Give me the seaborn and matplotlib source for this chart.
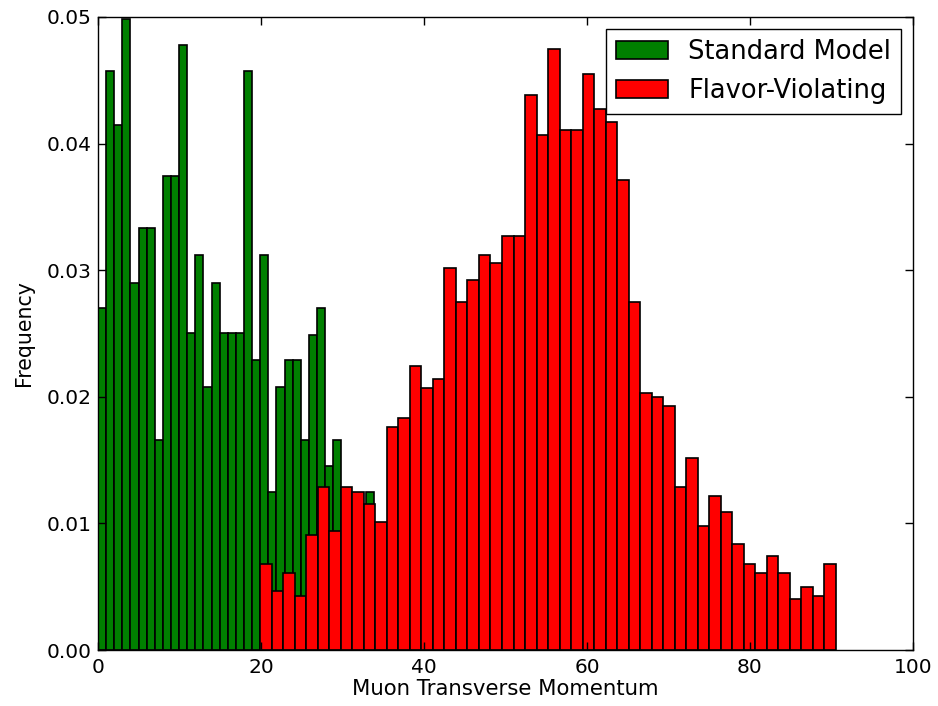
import numpy as np
import pandas as pd
import seaborn as sns
import matplotlib
matplotlib.use("Agg")
import matplotlib.pyplot as plt

# Standard Model histogram: 34 bins of ~1 unit starting at 0
sm_range = (0.0, 33.83)
sm_heights = [0.0270, 0.0457, 0.0415, 0.0498, 0.0290, 0.0333, 0.0333, 0.0166,
              0.0374, 0.0374, 0.0478, 0.0250, 0.0312, 0.0208, 0.0290, 0.0250,
              0.0250, 0.0250, 0.0457, 0.0229, 0.0312, 0.0125, 0.0208, 0.0229,
              0.0229, 0.0166, 0.0249, 0.0270, 0.0145, 0.0166, 0.0104, 0.0083,
              0.0104, 0.0125]

# Flavor-Violating histogram: 50 bins between ~20 and ~90.5
fv_range = (19.9, 90.55)
fv_heights = [0.0068, 0.0047, 0.0061, 0.0043, 0.0091, 0.0129, 0.0094, 0.0129,
              0.0125, 0.0115, 0.0101, 0.0176, 0.0183, 0.0224, 0.0207, 0.0214,
              0.0302, 0.0275, 0.0292, 0.0312, 0.0306, 0.0327, 0.0327, 0.0438,
              0.0407, 0.0475, 0.0411, 0.0411, 0.0455, 0.0427, 0.0417, 0.0371,
              0.0275, 0.0203, 0.0200, 0.0193, 0.0129, 0.0152, 0.0098, 0.0122,
              0.0109, 0.0084, 0.0068, 0.0061, 0.0074, 0.0061, 0.0040, 0.0050,
              0.0043, 0.0068]

plt.rcParams.update({
    "font.family": ["DejaVu Sans"],
    "xtick.direction": "in",
    "ytick.direction": "in",
    "xtick.top": True,
    "ytick.right": True,
    "xtick.major.size": 6,
    "ytick.major.size": 6,
    "xtick.major.pad": 6,
    "ytick.major.pad": 4.5,
})


def draw_hist(ax, rng, heights, color, label):
    edges = np.linspace(rng[0], rng[1], len(heights) + 1)
    df = pd.DataFrame({"x": (edges[:-1] + edges[1:]) / 2, "w": heights})
    sns.histplot(data=df, x="x", weights="w", bins=edges.tolist(), stat="count",
                 color=color, edgecolor="black", linewidth=1.2, alpha=1,
                 label=label, ax=ax)


fig = plt.figure(figsize=(9.38, 7.06), dpi=100, facecolor="white")
ax = fig.add_axes([0.1045, 0.0793, 0.8688, 0.8967])

draw_hist(ax, sm_range, sm_heights, "#008000", "Standard Model")
draw_hist(ax, fv_range, fv_heights, "#ff0000", "Flavor-Violating")

ax.set_xlim(0, 100)
ax.set_ylim(0, 0.05)
ax.set_yticks(np.arange(0, 0.051, 0.01))
ax.set_yticklabels([f"{v:.2f}" for v in np.arange(0, 0.051, 0.01)])
ax.tick_params(labelsize=14.5, width=1)
ax.set_xlabel("Muon Transverse Momentum", fontsize=15.3, labelpad=1)
ax.set_ylabel("Frequency", fontsize=14.8, labelpad=9)
for s in ax.spines.values():
    s.set_linewidth(1.0)
    s.set_color("black")

leg = ax.legend(loc="upper right", fontsize=18.5, fancybox=False,
                framealpha=1, edgecolor="black", handlelength=2.0,
                borderaxespad=0.45)
leg.get_frame().set_linewidth(1.0)

fig.savefig("out.png", dpi=100, facecolor="white")
